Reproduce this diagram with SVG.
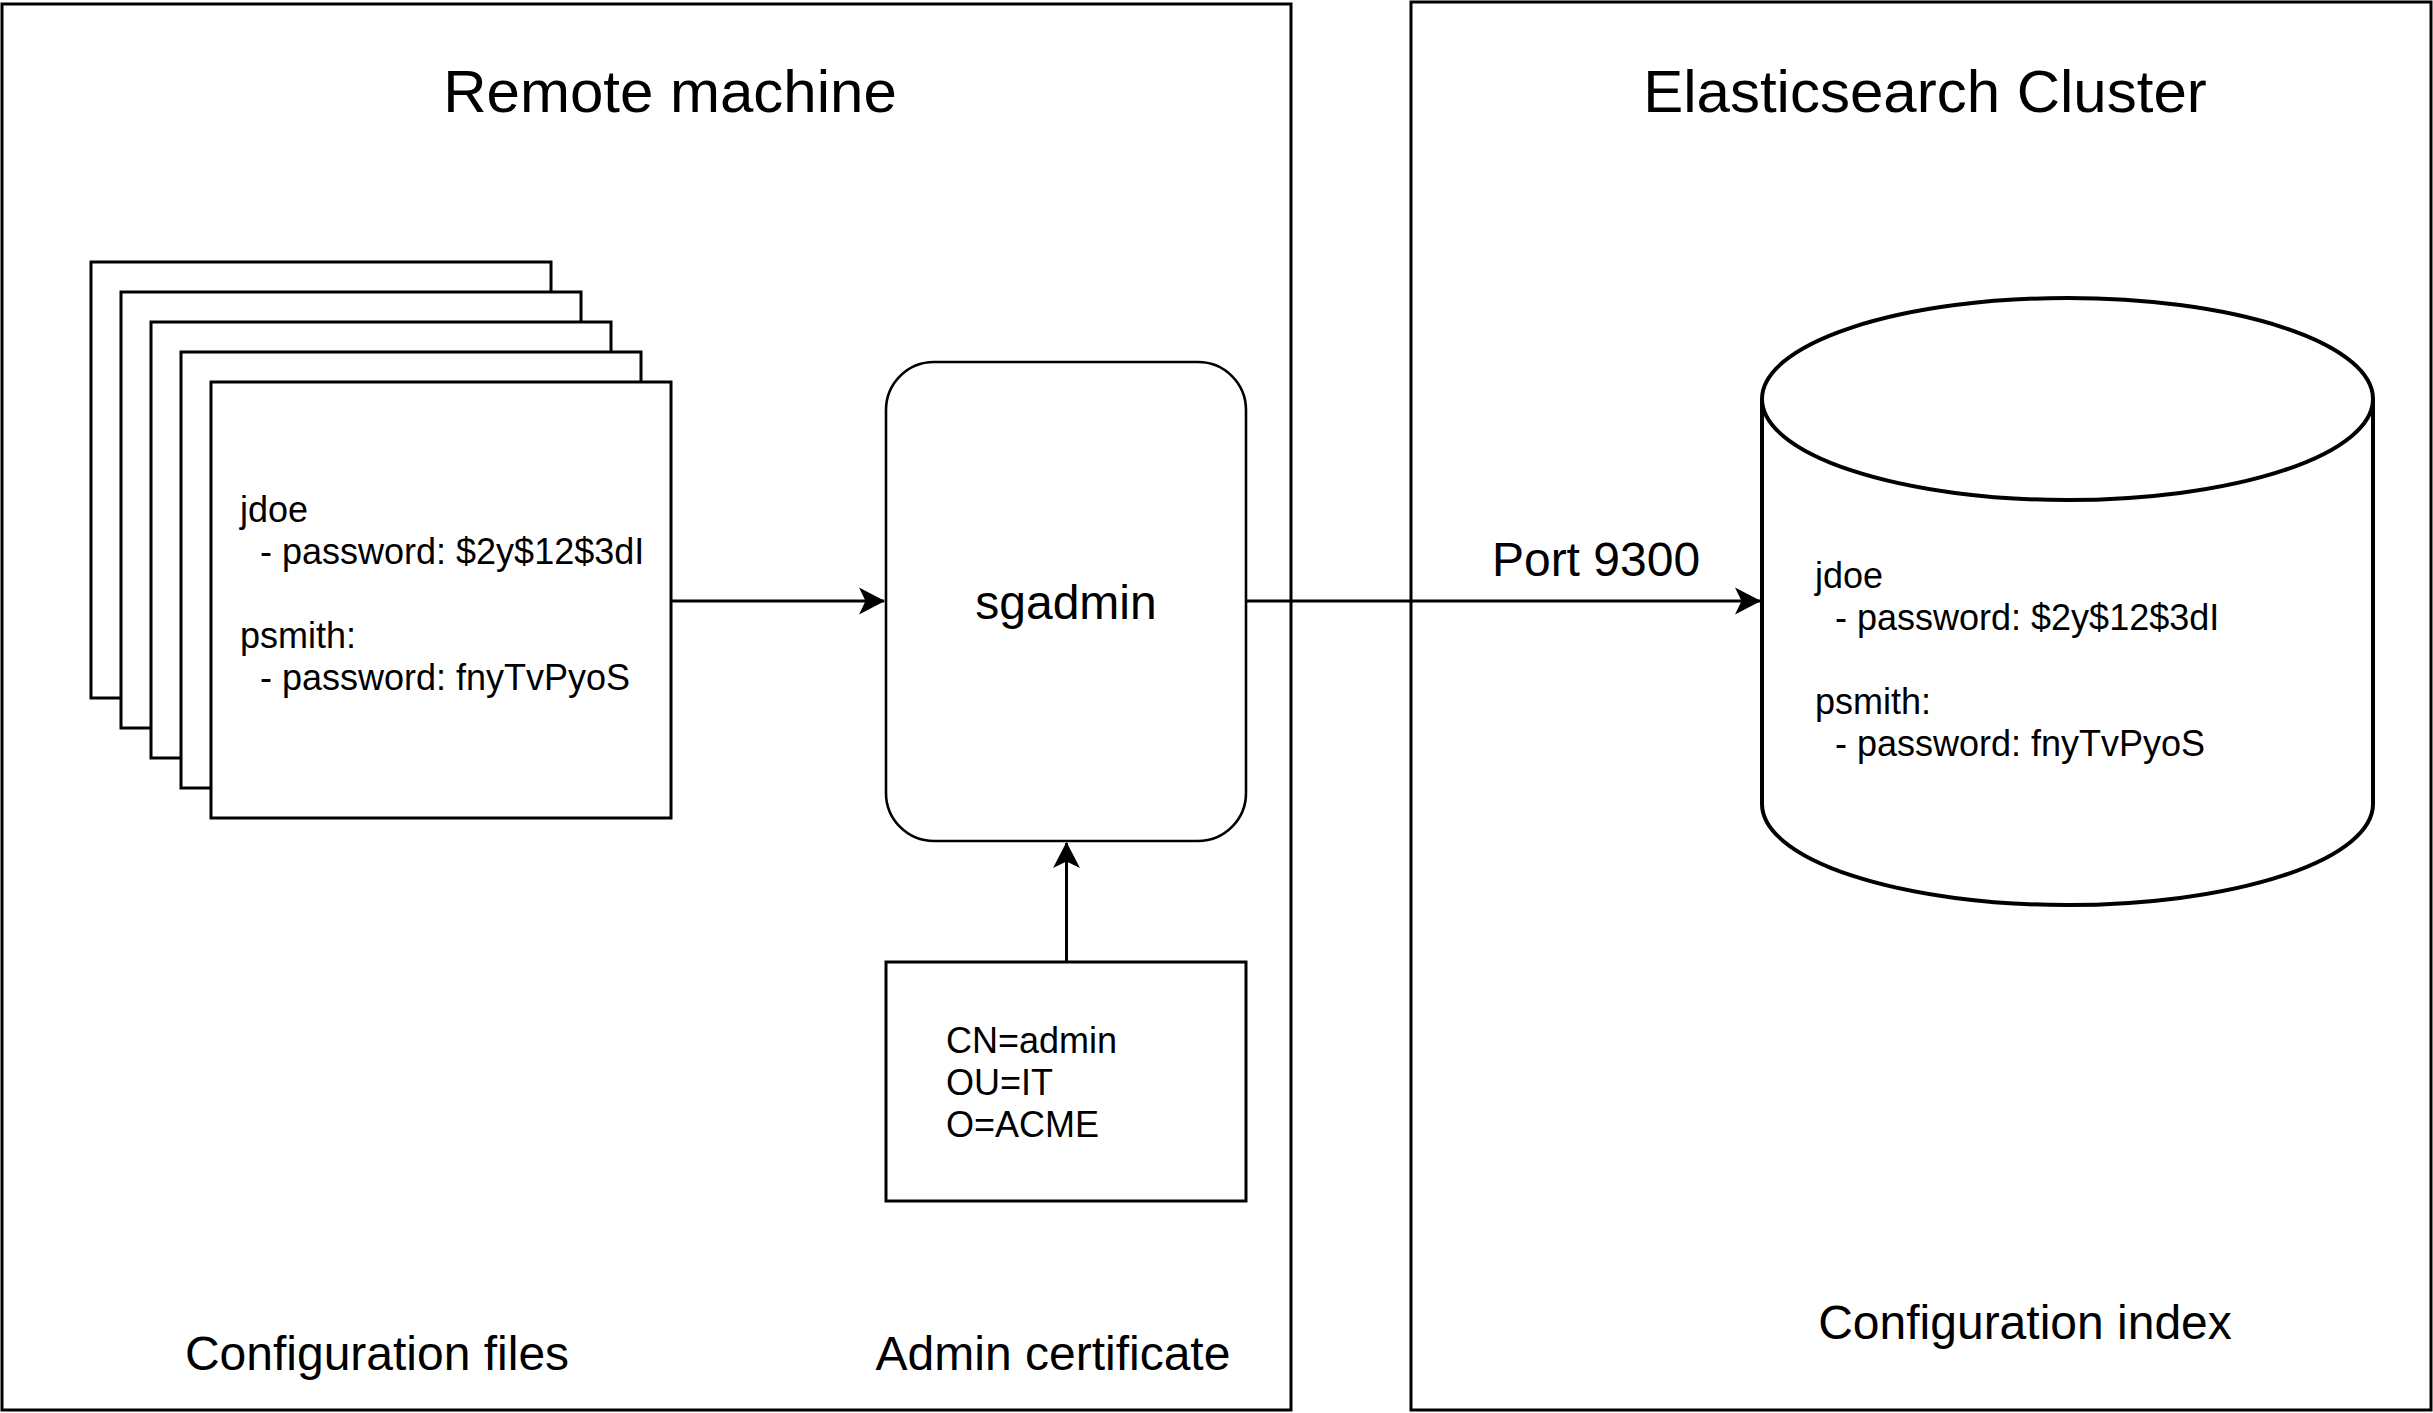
<svg xmlns="http://www.w3.org/2000/svg" width="2433" height="1413" viewBox="0 0 2433 1413">
  <style>
    .box { fill: #ffffff; stroke: #000000; stroke-width: 3; }
    .t { font-family: "Liberation Sans", Arial, Helvetica, sans-serif; fill: #000000; }
    .title { font-size: 60px; text-anchor: middle; }
    .label { font-size: 48px; text-anchor: middle; }
    .body { font-size: 36px; }
    .edge { fill: none; stroke: #000000; stroke-width: 3; }
  </style>
  <defs>
    <marker id="arrow" markerUnits="userSpaceOnUse" viewBox="0 0 26 28" markerWidth="26" markerHeight="28" refX="25" refY="14" orient="auto">
      <path d="M0,0.5 L26,14 L0,27.5 L6.5,14 Z" fill="#000000"/>
    </marker>
  </defs>
  <rect x="0" y="0" width="2433" height="1413" fill="#ffffff"/>

  <g id="remote-machine">
    <rect class="box" x="2" y="4" width="1289" height="1406"/>
    <text class="t title" x="670" y="112">Remote machine</text>
  </g>

  <g id="elasticsearch-cluster">
    <rect class="box" x="1411" y="2" width="1020" height="1408"/>
    <text class="t title" x="1925" y="112">Elasticsearch Cluster</text>
  </g>

  <g id="configuration-files">
    <rect class="box" x="91" y="262" width="460" height="436"/>
    <rect class="box" x="121" y="292" width="460" height="436"/>
    <rect class="box" x="151" y="322" width="460" height="436"/>
    <rect class="box" x="181" y="352" width="460" height="436"/>
    <rect class="box" x="211" y="382" width="460" height="436"/>
    <text class="t body" xml:space="preserve"><tspan x="240" y="522">jdoe</tspan><tspan x="240" y="564">  - password: $2y$12$3dI</tspan><tspan x="240" y="648">psmith:</tspan><tspan x="240" y="690">  - password: fnyTvPyoS</tspan></text>
    <text class="t label" x="377" y="1370">Configuration files</text>
  </g>

  <g id="sgadmin">
    <rect class="box" x="886" y="362" width="360" height="479" rx="48" ry="48" style="stroke-width:2.6"/>
    <text class="t label" x="1066" y="619">sgadmin</text>
  </g>

  <g id="admin-certificate">
    <rect class="box" x="886" y="962" width="360" height="239"/>
    <text class="t body"><tspan x="946" y="1053">CN=admin</tspan><tspan x="946" y="1095">OU=IT</tspan><tspan x="946" y="1137">O=ACME</tspan></text>
    <text class="t label" x="1053" y="1370">Admin certificate</text>
  </g>

  <g id="configuration-index">
    <path class="box" style="stroke-width:4" d="M1762,399 A305.5,101 0 0 1 2373,399 L2373,804 A305.5,101 0 0 1 1762,804 Z"/>
    <path class="edge" style="stroke-width:4" d="M1762,399 A305.5,101 0 0 0 2373,399"/>
    <text class="t body" xml:space="preserve"><tspan x="1815" y="588">jdoe</tspan><tspan x="1815" y="630">  - password: $2y$12$3dI</tspan><tspan x="1815" y="714">psmith:</tspan><tspan x="1815" y="756">  - password: fnyTvPyoS</tspan></text>
    <text class="t label" x="2025" y="1339">Configuration index</text>
  </g>

  <g id="connectors">
    <line class="edge" x1="671" y1="601" x2="884" y2="601" marker-end="url(#arrow)"/>
    <line class="edge" x1="1246" y1="601" x2="1760" y2="601" marker-end="url(#arrow)"/>
    <line class="edge" x1="1066.5" y1="962" x2="1066.5" y2="843" marker-end="url(#arrow)"/>
    <text class="t label" x="1596" y="576">Port 9300</text>
  </g>
</svg>
